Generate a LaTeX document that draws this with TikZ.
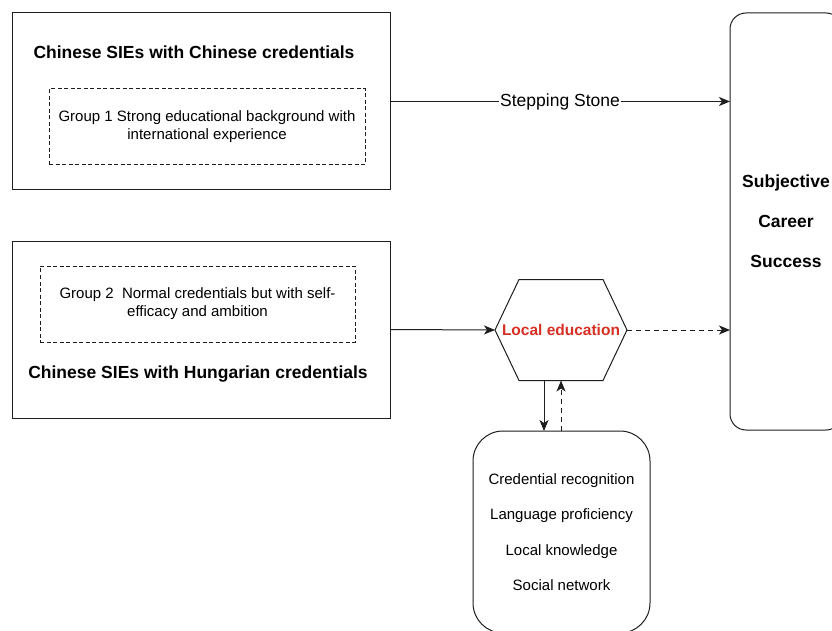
\documentclass[tikz,border=0pt]{standalone}
\usepackage{fontspec}
\setmainfont{Liberation Sans}
\usetikzlibrary{arrows.meta,calc}
\definecolor{redtxt}{RGB}{214,48,36}
\definecolor{ln}{RGB}{30,30,30}
\tikzset{
  box/.style={draw=ln, line width=1pt, inner sep=0pt, outer sep=0pt},
  dbox/.style={draw=ln, line width=1pt, dash pattern=on 4pt off 2.5pt, inner sep=0pt, outer sep=0pt, align=center, font=\fontsize{15}{18}\selectfont},
  rbox/.style={box, align=center},
  titletxt/.style={font=\fontsize{17.5}{21}\selectfont\bfseries, inner sep=0pt},
  conn/.style={draw=ln, line width=1pt, -{Stealth[length=11pt,width=9pt,inset=3pt]}},
  dconn/.style={conn, dash pattern=on 5pt off 4pt},
  lbl/.style={fill=white, inner sep=1pt, font=\fontsize{17.5}{21}\selectfont}
}
\begin{document}
\begin{tikzpicture}[x=1pt,y=-1pt]
\clip (0,0) rectangle (832,631);
\fill[white] (0,0) rectangle (832,631);

% left boxes
\node[box, minimum width=378pt, minimum height=177pt] (b1) at (201,101.5) {};
\node[titletxt] (t1) at (194,52) {Chinese SIEs with Chinese credentials};
\node[dbox, minimum width=316pt, minimum height=76pt] (d1) at (207,127)
  {Group 1 Strong educational background with\\international experience};

\node[box, minimum width=378pt, minimum height=177pt] (b2) at (201,329.5) {};
\node[dbox, minimum width=315pt, minimum height=76pt] (d2) at (197.5,304)
  {Group 2~ Normal credentials but with self-\\efficacy and ambition};
\node[titletxt] (t2) at (198,374) {Chinese SIEs with Hungarian credentials};

% right box
\node[rbox, rounded corners=16pt, minimum width=112pt, minimum height=417pt,
      font=\fontsize{17.5}{40}\selectfont\bfseries] (ssc) at (786,221.5)
  {Subjective\\Career\\Success};

% hexagon
\node[inner sep=0pt, outer sep=0pt, minimum width=132pt, minimum height=101pt,
      font=\fontsize{15.5}{18}\selectfont\bfseries, text=redtxt] (hex) at (561,330) {Local education};
\draw[ln, line width=1pt, line join=miter] (hex.west) -- ([xshift=24pt]hex.north west) -- ([xshift=-24pt]hex.north east)
  -- (hex.east) -- ([xshift=-24pt]hex.south east) -- ([xshift=24pt]hex.south west) -- cycle;

% bottom box
\node[rbox, rounded corners=30pt, minimum width=177pt, minimum height=202pt,
      font=\fontsize{15}{35.3}\selectfont] (bb) at (561.5,532)
  {Credential recognition\\Language proficiency\\Local knowledge\\Social network};

% connectors
\draw[conn] (b1.east) -- (b1.east -| ssc.west) node[midway, lbl] {Stepping Stone};
\draw[conn] (b2.east) -- (hex.west);
\draw[dconn] (hex.east) -- (hex.east -| ssc.west);
\coordinate (hdown) at ($(hex.south)+(-17,0)$);
\draw[conn] (hdown) -- (hdown |- bb.north);
\draw[dconn] (bb.north -| hex.south) -- (hex.south);
\end{tikzpicture}
\end{document}
